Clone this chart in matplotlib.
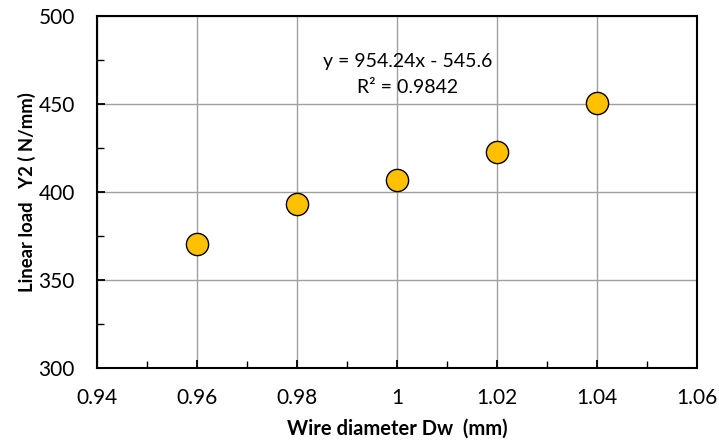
import matplotlib as mpl
mpl.use('Agg')
import matplotlib.pyplot as plt
from matplotlib.ticker import MultipleLocator

# data
wire_dia = [0.96, 0.98, 1.00, 1.02, 1.04]
lin_load = [370.3, 393.2, 406.8, 422.7, 450.7]
eq_lines = ["y = 954.24x - 545.6", "R\u00b2 = 0.9842"]
xtick_vals = [0.94, 0.96, 0.98, 1.0, 1.02, 1.04, 1.06]
xtick_txt = ['0.94', '0.96', '0.98', '1', '1.02', '1.04', '1.06']

plt.rcParams['font.family'] = ['Lato', 'DejaVu Sans']

fig = plt.figure(figsize=(7.19, 4.43), dpi=100)
ax = fig.add_axes([0.135, 0.169, 0.834, 0.795])

ax.plot(wire_dia, lin_load, 'o', ms=16, mfc='#FFC000', mec='black', mew=1.0,
        zorder=3, clip_on=False)

ax.set_xlim(0.94, 1.06)
ax.set_ylim(300, 500)
ax.set_xticks(xtick_vals)
ax.set_xticklabels(xtick_txt)
ax.xaxis.set_minor_locator(MultipleLocator(0.01))
ax.yaxis.set_major_locator(MultipleLocator(50))
ax.yaxis.set_minor_locator(MultipleLocator(25))

ax.grid(True, which='major', color='#A0A0A0', lw=1.0, zorder=0)
ax.set_axisbelow(True)
ax.tick_params(which='both', direction='in', labelsize=15, color='black')
ax.tick_params(which='major', length=6, width=1.3)
ax.tick_params(axis='x', which='major', pad=14)
ax.tick_params(axis='y', which='major', pad=16)
ax.tick_params(which='minor', length=5, width=1.0)
for s in ax.spines.values():
    s.set_linewidth(1.5)

ax.set_xlabel("Wire diameter Dw  (mm)", fontsize=14.5, fontweight='bold', labelpad=8)
ax.set_ylabel("Linear load   Y2 ( N/mm)", fontsize=13.3, fontweight='bold', labelpad=2)

ax.text(1.0022, 474, eq_lines[0], ha='center', va='center', fontsize=14)
ax.text(1.0022, 459.5, eq_lines[1], ha='center', va='center', fontsize=14)

plt.savefig('out.png', dpi=100)
